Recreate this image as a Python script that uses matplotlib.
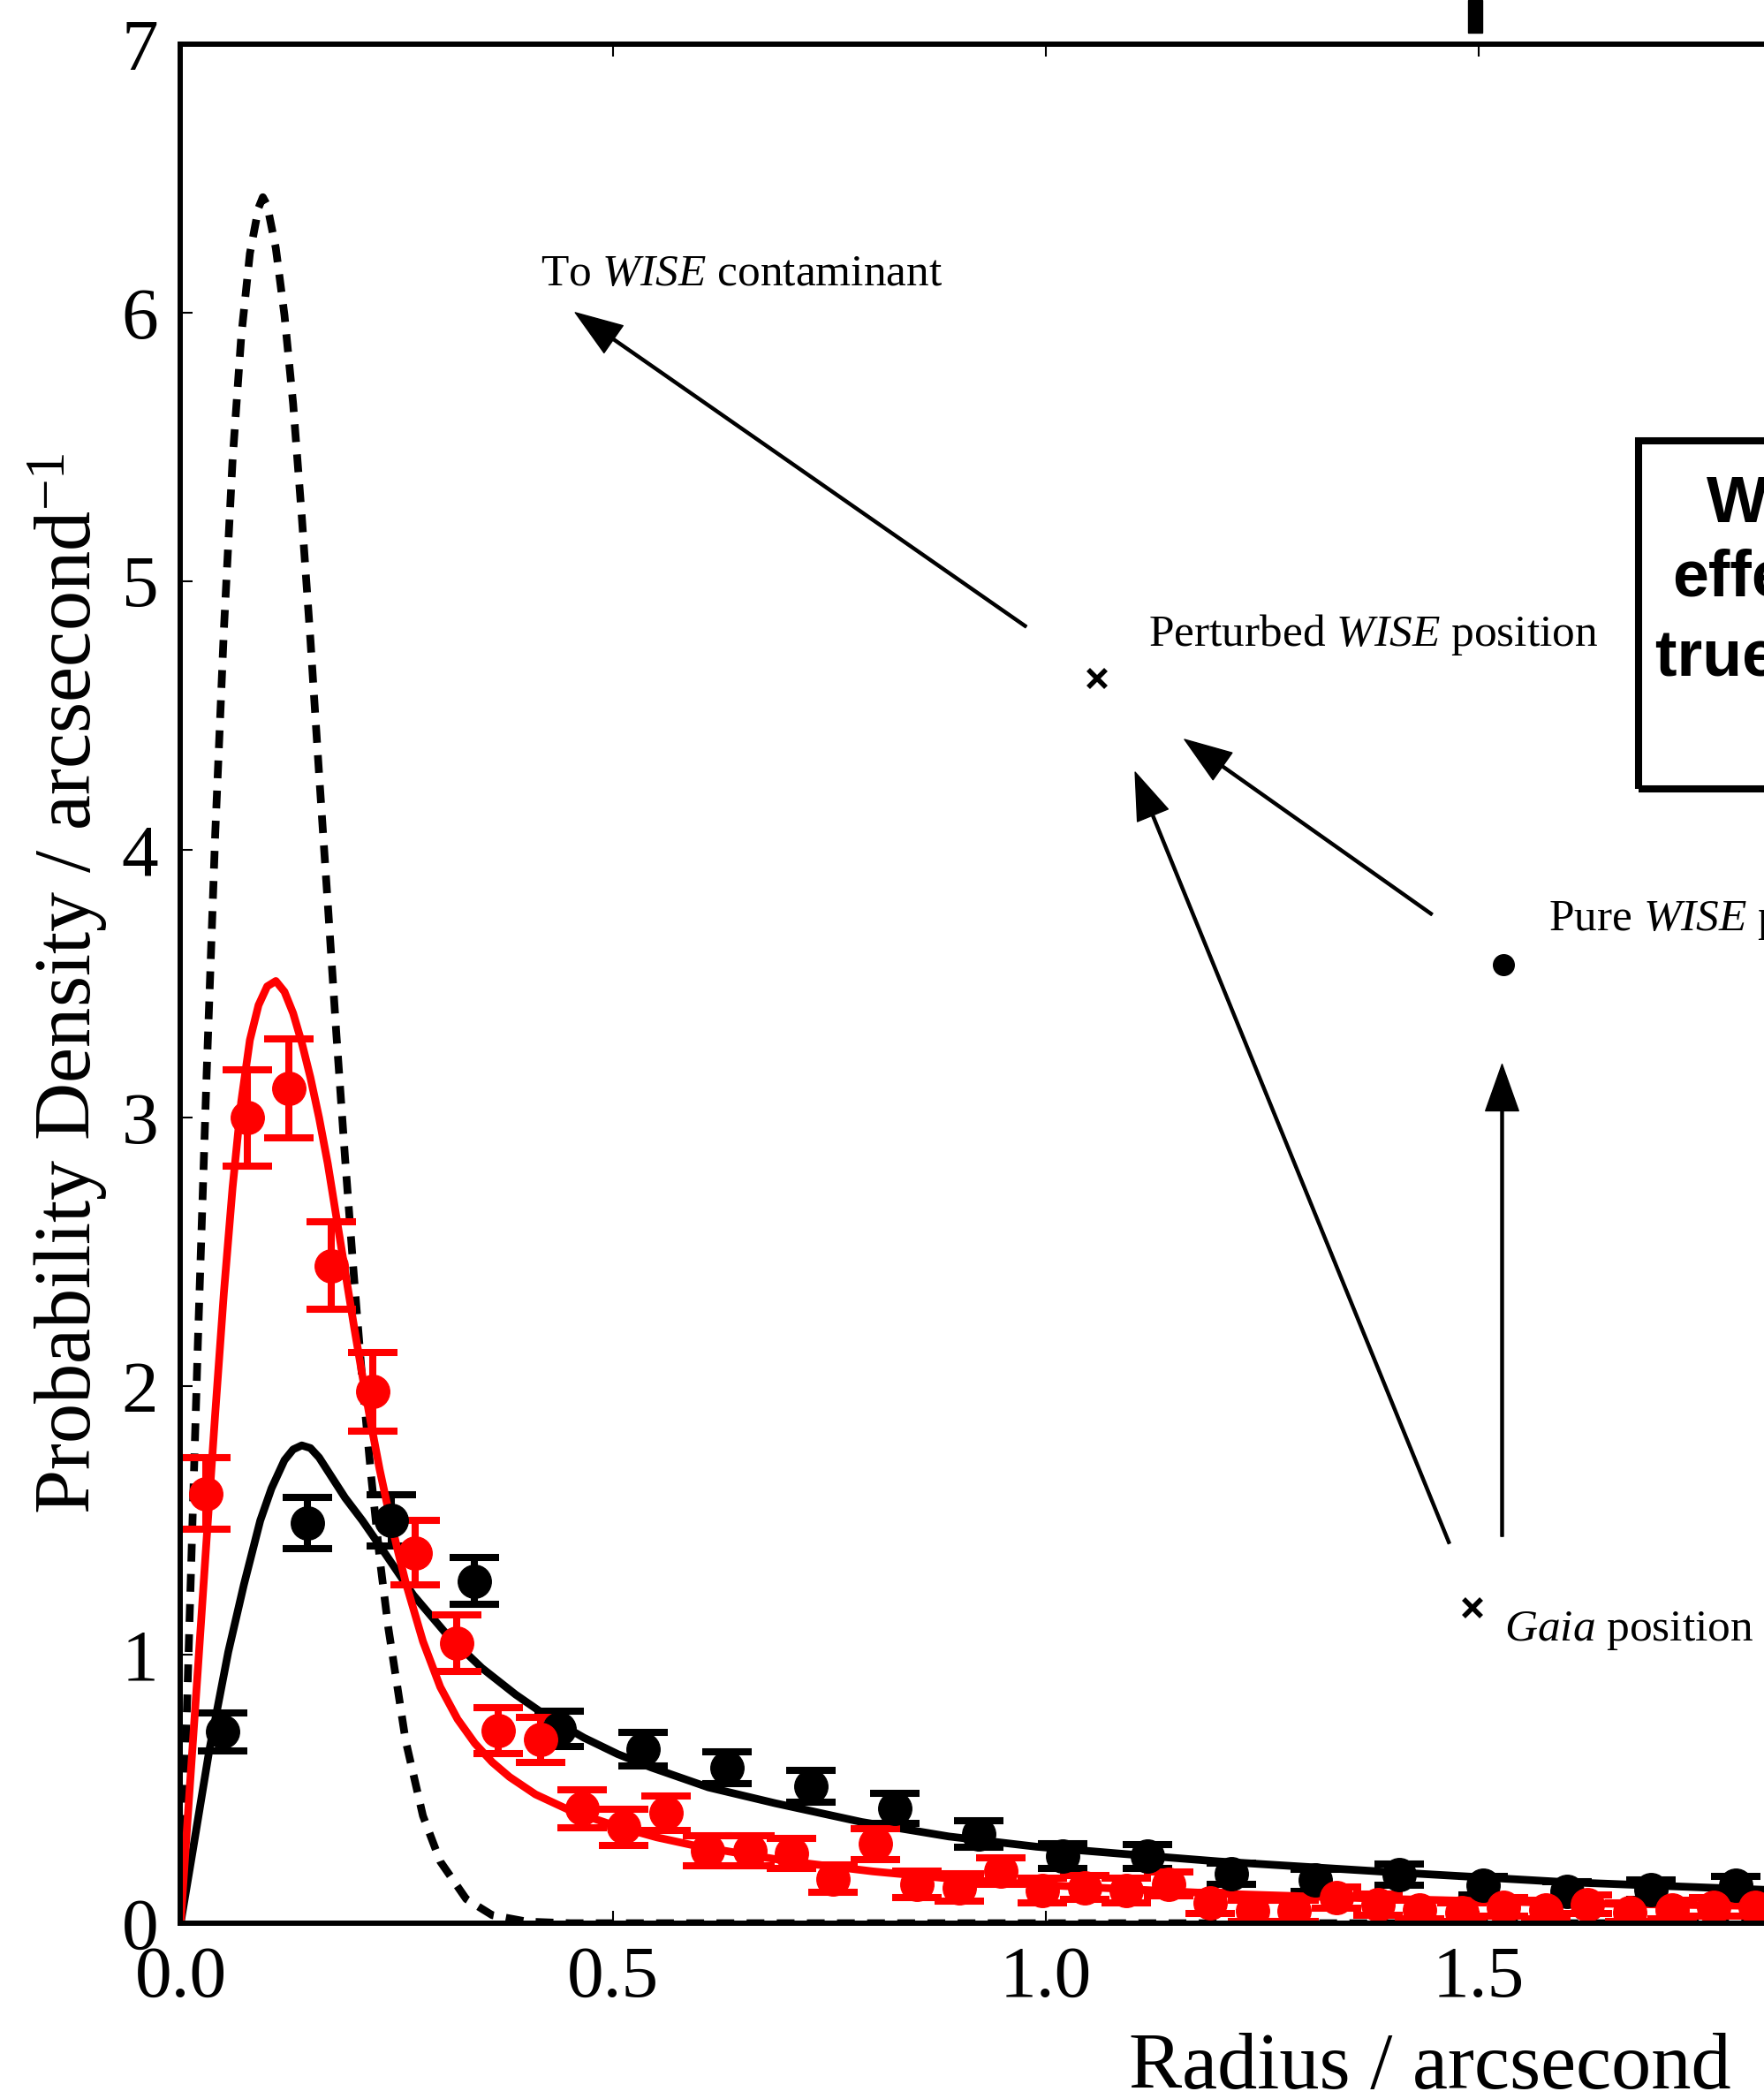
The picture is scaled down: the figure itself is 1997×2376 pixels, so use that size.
import numpy as np
import matplotlib
matplotlib.use('Agg')
import matplotlib.pyplot as plt
from matplotlib.patches import Rectangle

plt.rcParams['font.family'] = ['Liberation Serif', 'DejaVu Serif']
plt.rcParams['mathtext.fontset'] = 'custom'
plt.rcParams['mathtext.rm'] = 'Liberation Serif'
plt.rcParams['mathtext.it'] = 'Liberation Serif:italic'

# binned radial offsets, black set
r_black = [0.049, 0.146, 0.243, 0.339, 0.437, 0.534, 0.631, 0.728, 0.825, 0.922,
           1.019, 1.117, 1.214, 1.311, 1.408, 1.505, 1.602, 1.699, 1.797]
p_black = [0.713, 1.49, 1.50, 1.275, 0.725, 0.648, 0.58, 0.51, 0.428, 0.333,
           0.25, 0.249, 0.185, 0.16, 0.18, 0.14, 0.12, 0.125, 0.14]
e_black = [0.07, 0.095, 0.095, 0.088, 0.066, 0.062, 0.06, 0.058, 0.055, 0.05,
           0.045, 0.045, 0.04, 0.04, 0.04, 0.035, 0.035, 0.035, 0.035]

# binned radial offsets, red set
r_red = [0.029, 0.077, 0.125, 0.174, 0.222, 0.271, 0.319, 0.367, 0.416, 0.464,
         0.512, 0.561, 0.609, 0.658, 0.706, 0.754, 0.803, 0.851, 0.900, 0.948,
         0.996, 1.045, 1.093, 1.142, 1.190, 1.239, 1.287, 1.336, 1.384, 1.432,
         1.481, 1.529, 1.578, 1.626, 1.674, 1.723, 1.771, 1.819]
p_red = [1.60, 3.00, 3.11, 2.45, 1.98, 1.38, 1.043, 0.717, 0.683, 0.427,
         0.358, 0.41, 0.27, 0.27, 0.26, 0.166, 0.295, 0.144, 0.133, 0.195,
         0.122, 0.133, 0.122, 0.146, 0.075, 0.045, 0.045, 0.095, 0.07, 0.05,
         0.04, 0.06, 0.05, 0.07, 0.04, 0.05, 0.06, 0.06]
e_red = [0.133, 0.18, 0.183, 0.162, 0.146, 0.12, 0.105, 0.086, 0.085, 0.07,
         0.068, 0.065, 0.055, 0.055, 0.055, 0.05, 0.057, 0.05, 0.05, 0.05,
         0.045, 0.045, 0.045, 0.045, 0.04, 0.04, 0.04, 0.04, 0.04, 0.035,
         0.035, 0.035, 0.035, 0.035, 0.035, 0.035, 0.035, 0.035]

# model curves
r_dash = [0, 0.01, 0.02, 0.03, 0.04, 0.05, 0.06, 0.07, 0.08, 0.09, 0.095, 0.10,
          0.11, 0.12, 0.13, 0.14, 0.15, 0.16, 0.17, 0.18, 0.19, 0.20, 0.21, 0.22,
          0.23, 0.24, 0.26, 0.28, 0.30, 0.33, 0.36, 0.40, 0.45, 0.60, 1.0, 1.5, 2.0]
p_dash = [0, 1.10, 2.17, 3.16, 4.06, 4.82, 5.45, 5.91, 6.22, 6.39, 6.43, 6.40,
          6.24, 5.99, 5.66, 5.24, 4.78, 4.28, 3.80, 3.31, 2.85, 2.42, 2.02, 1.67,
          1.36, 1.10, 0.68, 0.40, 0.23, 0.09, 0.03, 0.006, 0.0, 0.0, 0.0, 0.0, 0.0]

r_red_fit = [0, 0.01, 0.02, 0.03, 0.04, 0.05, 0.06, 0.07, 0.08, 0.09, 0.10, 0.11,
             0.12, 0.13, 0.14, 0.15, 0.16, 0.17, 0.18, 0.19, 0.20, 0.21, 0.22, 0.23,
             0.24, 0.25, 0.26, 0.28, 0.30, 0.32, 0.34, 0.36, 0.38, 0.41, 0.45, 0.50,
             0.55, 0.60, 0.70, 0.80, 0.90, 1.0, 1.2, 1.4, 1.6, 1.85]
p_red_fit = [0, 0.48, 0.95, 1.43, 1.90, 2.35, 2.74, 3.06, 3.29, 3.42, 3.49, 3.51,
             3.47, 3.39, 3.28, 3.15, 3.00, 2.83, 2.63, 2.43, 2.23, 2.04, 1.86, 1.69,
             1.54, 1.40, 1.27, 1.05, 0.88, 0.76, 0.67, 0.60, 0.545, 0.48, 0.42, 0.365,
             0.32, 0.285, 0.232, 0.193, 0.163, 0.142, 0.11, 0.09, 0.075, 0.063]

r_black_fit = [0, 0.014, 0.033, 0.055, 0.073, 0.092, 0.105, 0.12, 0.13, 0.14,
               0.15, 0.16, 0.175, 0.19, 0.21, 0.23, 0.269, 0.308, 0.348, 0.387, 0.426,
               0.466, 0.505, 0.544, 0.61, 0.687, 0.787, 0.888, 0.989, 1.09, 1.2, 1.4,
               1.6, 1.85]
p_black_fit = [0, 0.27, 0.642, 1.01, 1.26, 1.50, 1.62, 1.725, 1.765, 1.78,
               1.77, 1.735, 1.66, 1.585, 1.50, 1.407, 1.222, 1.074, 0.951, 0.852, 0.765,
               0.691, 0.63, 0.58, 0.506, 0.447, 0.377, 0.323, 0.285, 0.258, 0.23, 0.19,
               0.153, 0.122]

fig = plt.figure(figsize=(19.97, 23.76), dpi=100)
ax = fig.add_axes([0.1024, 0.08375, 1.4227, 0.8952])

lw = 6.3
ax.plot(r_dash, p_dash, color='k', lw=lw, dashes=(2.3, 1.6))
ax.plot(r_black_fit, p_black_fit, color='k', lw=lw)
ax.errorbar(r_black, p_black, yerr=e_black, fmt='o', color='k', ms=27,
            elinewidth=5.8, capsize=20, capthick=5.8)
ax.plot(r_red_fit, p_red_fit, color='r', lw=lw)
ax.errorbar(r_red, p_red, yerr=e_red, fmt='o', color='r', ms=27,
            elinewidth=5.8, capsize=20, capthick=5.8)

# sketch of positions
arr = dict(width=2.2, headwidth=27, headlength=38, facecolor='k', edgecolor='k', shrink=0.0)
ax.annotate('', xy=(0.456, 6.00), xytext=(0.977, 4.83), arrowprops=arr)
ax.annotate('', xy=(1.160, 4.41), xytext=(1.446, 3.758), arrowprops=arr)
ax.annotate('', xy=(1.103, 4.288), xytext=(1.466, 1.415), arrowprops=arr)
ax.annotate('', xy=(1.527, 3.20), xytext=(1.527, 1.441), arrowprops=arr)

ax.plot([1.059], [4.636], 'kx', ms=14, mew=4)
ax.plot([1.493], [1.175], 'kx', ms=14, mew=4)
ax.plot([1.529], [3.570], 'ko', ms=17)

fs = 37
ax.text(0.416, 6.10, r'To $\mathit{WISE}$ contaminant', fontsize=fs, va='baseline')
ax.text(1.118, 4.76, r'Perturbed $\mathit{WISE}$ position', fontsize=fs, va='baseline')
ax.text(1.581, 3.70, r'Pure $\mathit{WISE}$ position', fontsize=fs, va='baseline')
ax.text(1.530, 1.053, r'$\mathit{Gaia}$ position', fontsize=fs, va='baseline')

ax.add_patch(Rectangle((1.685, 4.226), 1.0, 1.296, fill=False, ec='k', lw=5.8))
bf = dict(family='Liberation Sans', weight='bold', va='baseline', ha='left', fontsize=53)
ax.text(1.763, 5.219, 'WISE', **bf)
ax.text(1.724, 4.946, 'effective', **bf)
ax.text(1.704, 4.646, 'true position', **bf)

ax.set_xlim(0, 2.9)
ax.set_ylim(0, 7)
ax.set_xticks([0, 0.5, 1.0, 1.5, 2.0, 2.5])
ax.set_yticks(range(8))
ax.tick_params(direction='in', top=True, right=True, length=10, width=1.5,
               labelsize=60)
ax.tick_params(axis='x', pad=18)
ax.tick_params(axis='y', pad=18)
for s in ax.spines.values():
    s.set_linewidth(4.3)

ax.set_xlabel('Radius / arcsecond', fontsize=65)
ax.xaxis.set_label_coords(1.444 / 2.9, -0.058)
ax.set_ylabel(r'Probability Density / arcsecond$^{-1}$', fontsize=65, labelpad=10)

# stem of the panel heading above the axes
fig.add_artist(Rectangle((0.8322, 0.9844), 0.008, 0.0156, transform=fig.transFigure,
                         color='k'))

fig.savefig('out.png', dpi=100)
